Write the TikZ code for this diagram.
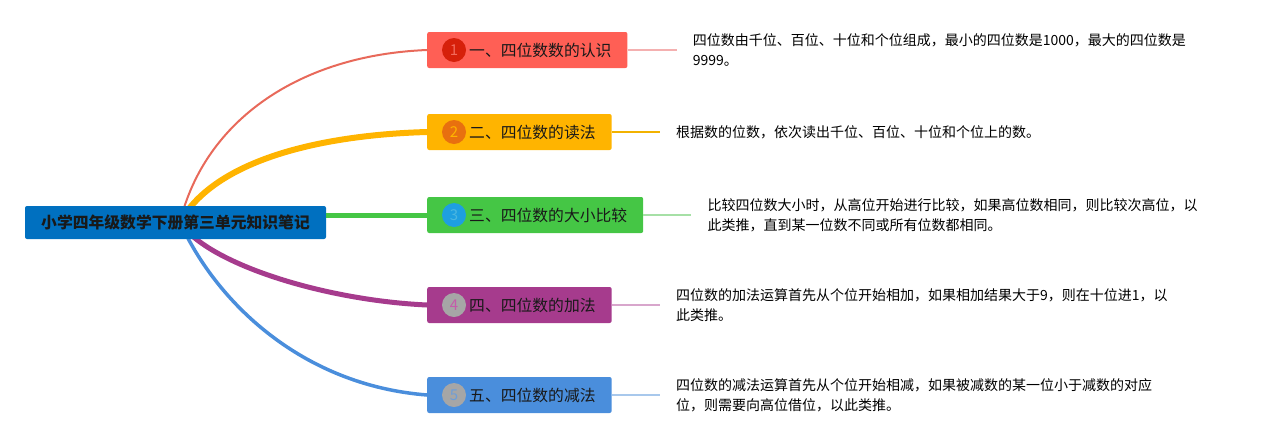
\documentclass[tikz,border=0pt]{standalone}
\usepackage{fontspec}
\setmainfont{Noto Sans CJK SC}
\usetikzlibrary{positioning}

\definecolor{rootblue}{HTML}{0070C0}
\definecolor{fillA}{HTML}{FF5F55}
\definecolor{fillB}{HTML}{FFB400}
\definecolor{fillC}{HTML}{45C645}
\definecolor{fillD}{HTML}{A63B8D}
\definecolor{fillE}{HTML}{4A8EDC}
\definecolor{dotA}{HTML}{D6200A}
\definecolor{dotB}{HTML}{E8700F}
\definecolor{dotC}{HTML}{1E9FE0}
\definecolor{dotG}{HTML}{A6A6A6}
\definecolor{numA}{HTML}{F26A5C}
\definecolor{numC}{HTML}{4AB6E0}
\definecolor{numD}{HTML}{C45CAA}
\definecolor{numE}{HTML}{6E9ED8}
\definecolor{limbA}{HTML}{E8695A}
\definecolor{leadA}{HTML}{F4B0B0}
\definecolor{leadB}{HTML}{F2B200}
\definecolor{leadC}{HTML}{A6E0A6}
\definecolor{leadD}{HTML}{D8A6CC}
\definecolor{leadE}{HTML}{A8C8EC}

\tikzset{
  root/.style={rectangle, rounded corners=2pt, fill=rootblue, minimum width=301pt, minimum height=33pt, inner sep=0pt, font=\fontsize{15.8pt}{18pt}\selectfont\bfseries, text=black!90},
  branch/.style={rectangle, rounded corners=2pt, minimum height=36pt, inner xsep=16pt, inner ysep=0pt, anchor=west, font=\fontsize{15.8pt}{18pt}\selectfont, text=black!90},
  numdot/.style={circle, minimum size=24pt, inner sep=0pt, font=\fontsize{15pt}{18pt}\selectfont},
  note/.style={align=left, inner xsep=16pt, font=\fontsize{14pt}{20pt}\selectfont, text=black},
  limb/.style={line cap=round},
  leader/.style={line width=1.2pt},
}

\begin{document}
\begin{tikzpicture}[x=1pt, y=-1pt]
\useasboundingbox (0,0) rectangle (1269,445);

\node[branch, fill=fillA] (b1) at (427,50) {\hspace*{26pt}一、四位数数的认识};
\node[branch, fill=fillB] (b2) at (427,132) {\hspace*{26pt}二、四位数的读法};
\node[branch, fill=fillC] (b3) at (427,215) {\hspace*{26pt}三、四位数的大小比较};
\node[branch, fill=fillD] (b4) at (427,305) {\hspace*{26pt}四、四位数的加法};
\node[branch, fill=fillE] (b5) at (427,395) {\hspace*{26pt}五、四位数的减法};

\node[numdot, fill=dotA, text=numA] (d1) at ([xshift=27pt]b1.west) {1};
\node[numdot, fill=dotB, text=fillB] (d2) at ([xshift=27pt]b2.west) {2};
\node[numdot, fill=dotC, text=numC] (d3) at ([xshift=27pt]b3.west) {3};
\node[numdot, fill=dotG, text=numD] (d4) at ([xshift=27pt]b4.west) {4};
\node[numdot, fill=dotG, text=numE] (d5) at ([xshift=27pt]b5.west) {5};

\node[note, right=49pt of b1] (t1) {四位数由千位、百位、十位和个位组成，最小的四位数是1000，最大的四位数是\\9999。};
\node[note, right=48pt of b2] (t2) {根据数的位数，依次读出千位、百位、十位和个位上的数。};
\node[note, right=48pt of b3] (t3) {比较四位数大小时，从高位开始进行比较，如果高位数相同，则比较次高位，以\\此类推，直到某一位数不同或所有位数都相同。};
\node[note, right=48pt of b4] (t4) {四位数的加法运算首先从个位开始相加，如果相加结果大于9，则在十位进1，以\\此类推。};
\node[note, right=48pt of b5] (t5) {四位数的减法运算首先从个位开始相减，如果被减数的某一位小于减数的对应\\位，则需要向高位借位，以此类推。};

\draw[leader, leadA] (b1) -- (t1);
\draw[leader, leadB] (b2) -- (t2);
\draw[leader, leadC] (b3) -- (t3);
\draw[leader, leadD] (b4) -- (t4);
\draw[leader, leadE] (b5) -- (t5);

\coordinate (hub) at (180,222);
\draw[limb, line width=2pt, limbA] (hub) .. controls (205,120) and (300,55) .. (b1.west);
\draw[limb, line width=6pt, fillB] (hub) .. controls (215,160) and (320,135) .. (b2.west);
\draw[limb, line width=5pt, fillD] (hub) .. controls (205,262) and (320,300) .. (b4.west);
\draw[limb, line width=3.5pt, fillE] (hub) .. controls (215,300) and (300,385) .. (b5.west);

\node[root] (root) at (175.5,222.5) {小学四年级数学下册第三单元知识笔记};
\draw[line width=5pt, fillC] (root.east |- b3.west) -- (b3.west);
\end{tikzpicture}
\end{document}
